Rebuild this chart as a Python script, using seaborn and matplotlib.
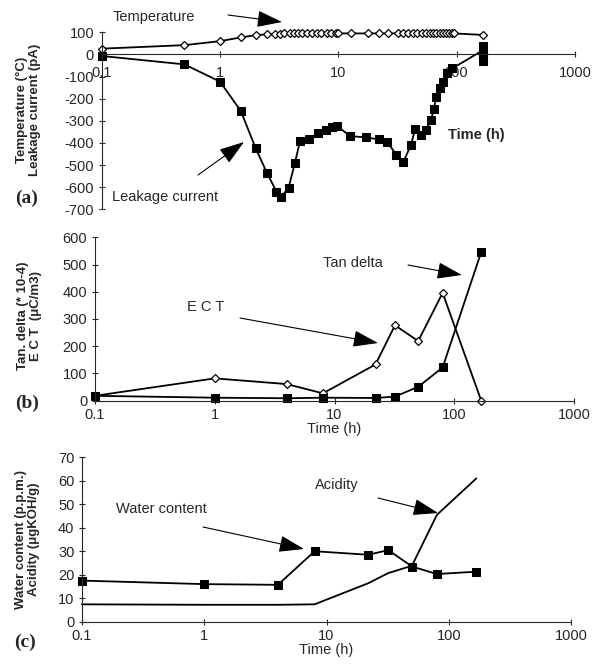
import numpy as np
import pandas as pd
import matplotlib
matplotlib.use('Agg')
import matplotlib.pyplot as plt
import seaborn as sns

# (a) temperature and leakage current vs time
temp_time = [0.1, 0.5, 1.0, 1.5, 2.0, 2.5, 2.9, 3.2, 3.5, 3.9, 4.25, 4.6, 4.9, 5.4, 6.0,
             6.6, 7.2, 8.0, 8.6, 9.5, 10, 12.8, 17.7, 22, 26.4, 31.7, 35, 38.5, 42.4,
             46.5, 50.7, 55, 59, 63, 67, 72, 77, 81, 86, 91, 95, 168]
temperature = [26, 42, 60, 77, 87, 91, 93, 94, 95, 95, 95, 95, 95, 95, 95,
               95, 95, 95, 95, 95, 95, 95, 95, 95, 95, 95, 95, 95, 95,
               95, 95, 95, 95, 95, 95, 95, 95, 95, 95, 95, 95, 88]

leak_time = [0.1, 0.5, 1.0, 1.5, 2.0, 2.5, 3.0, 3.3, 3.8, 4.3, 4.75, 5.7, 6.7, 7.9, 8.8,
             9.75, 12.6, 17, 22, 26, 31, 35.5, 41, 44.5, 50, 55, 60.5, 64.5, 66.7, 72,
             77, 83.5, 92, 168, 168, 168, 168]
leakage = [-7, -45, -123, -256, -424, -537, -620, -643, -602, -489, -390, -384, -354, -342, -329,
           -324, -369, -375, -384, -396, -455, -485, -410, -339, -364, -342, -296, -248, -191, -153,
           -123, -85, -63, 20, 38, -5, -28]

# (b) and (c) share sampling times
sample_time = [0.1, 1, 4, 8, 22, 32, 50, 80, 168]
ect = [18, 82, 61, 27, 133, 277, 219, 396, 0]
tan_delta = [18, 11, 9, 11, 10, 15, 51, 122, 546]
water = [17.5, 16, 15.7, 30, 28.5, 30.5, 23.5, 20.3, 21.3]
acidity = [7.4, 7.2, 7.2, 7.4, 16.4, 20.7, 23.8, 45.5, 61]

xticks = [0.1, 1, 10, 100, 1000]
xticklabels = ['0.1', '1', '10', '100', '1000']

sns.set_style('ticks')
plt.rcParams['font.family'] = ['Liberation Sans', 'DejaVu Sans']
plt.rcParams['axes.unicode_minus'] = False

W, H = 594, 666
fig = plt.figure(figsize=(W / 100, H / 100), dpi=100)


def fp(x, y):
    # top-left pixel -> figure fraction
    return (x / W, 1 - y / H)


def rect(x0, x1, ytop, ybot):
    return [x0 / W, 1 - ybot / H, (x1 - x0) / W, (ybot - ytop) / H]


ax_a = fig.add_axes(rect(101.7, 575, 32.3, 209.3))
ax_b = fig.add_axes(rect(95, 574, 237.3, 400.7))
ax_c = fig.add_axes(rect(82, 571, 457.3, 621.7))

sq = dict(color='black', marker='s', markersize=6.3, markerfacecolor='black',
          markeredgecolor='black', linewidth=1.3, sort=False, estimator=None)
dm = dict(color='black', marker='D', markersize=3.8, markerfacecolor='white',
          markeredgecolor='black', markeredgewidth=0.9, linewidth=1.3, sort=False, estimator=None)

sns.lineplot(x=temp_time, y=temperature, ax=ax_a, **dm)
sns.lineplot(x=leak_time, y=leakage, ax=ax_a, **sq)
sns.lineplot(x=sample_time, y=ect, ax=ax_b, **dm)
sns.lineplot(x=sample_time, y=tan_delta, ax=ax_b, **sq)
sns.lineplot(x=sample_time, y=water, ax=ax_c, **sq)
sns.lineplot(x=sample_time, y=acidity, ax=ax_c, color='black', linewidth=1.3, sort=False, estimator=None)

for ax in (ax_a, ax_b, ax_c):
    ax.set_facecolor('none')
    ax.set_xscale('log')
    ax.set_xlim(0.1, 1000)
    ax.set_xticks(xticks)
    ax.set_xticklabels(xticklabels)
    ax.minorticks_off()
    ax.spines['top'].set_visible(False)
    ax.spines['right'].set_visible(False)
    ax.spines['left'].set_linewidth(0.8)
    ax.spines['bottom'].set_linewidth(0.8)
    ax.tick_params(direction='inout', length=5, width=0.8, labelsize=10.5, pad=3)
    ax.set_xlabel('')
    for line in ax.lines:
        line.set_clip_on(False)

ax_a.set_ylim(-700, 100)
ax_a.set_yticks(range(-700, 101, 100))
ax_a.spines['bottom'].set_position(('data', 0))
ax_a.tick_params(axis='x', pad=6)

ax_b.set_ylim(0, 600)
ax_b.set_yticks(range(0, 601, 100))
ax_b.set_xlabel('Time (h)', fontsize=10.5, labelpad=0)

ax_c.set_ylim(0, 70)
ax_c.set_yticks(range(0, 71, 10))
ax_c.set_xlabel('Time (h)', fontsize=10.5, labelpad=0)

ylab = dict(fontsize=9.5, fontweight='bold', linespacing=1.1)
ax_a.set_ylabel('Temperature (°C)\nLeakage current (pA)', **ylab)
ax_a.yaxis.set_label_coords(-0.128, 0.56)
ax_b.set_ylabel('Tan. delta (* 10-4)\nE C T  (\u03bcC/m3)', **ylab)
ax_b.yaxis.set_label_coords(-0.111, 0.52)
ax_c.set_ylabel('Water content (p.p.m.)\nAcidity (\u03bcgKOH/g)', **ylab)
ax_c.yaxis.set_label_coords(-0.086, 0.5)

# panel letters
for lab, (x, y) in [('(a)', (27, 198)), ('(b)', (27, 403)), ('(c)', (25, 642))]:
    fig.text(*fp(x, y), lab, family=['Liberation Serif', 'DejaVu Serif'], fontsize=14,
             fontweight='bold', ha='center', va='center')

# callouts: text, text position, arrow tail, arrow tip (pixels from top-left)
arrow = dict(arrowstyle='-|>,head_length=1.2,head_width=0.4', color='black', lw=0.8,
             mutation_scale=13, shrinkA=0, shrinkB=0)
notes = [
    (ax_a, 'Temperature', (113, 16.7), (228, 15), (282, 22)),
    (ax_a, 'Leakage current', (112, 197), (198, 175), (244, 142)),
    (ax_b, 'E C T', (187, 306.7), (240, 318), (378, 343)),
    (ax_b, 'Tan delta', (323, 262.7), (408, 265), (462, 275)),
    (ax_c, 'Water content', (116, 509.3), (203, 527), (304, 549)),
    (ax_c, 'Acidity', (315, 485), (378, 498), (438, 513)),
]
for ax, txt, tpos, tail, tip in notes:
    fig.text(*fp(*tpos), txt, fontsize=10.5, ha='left', va='center')
    ax.annotate('', xy=fp(*tip), xytext=fp(*tail), xycoords='figure fraction',
                textcoords='figure fraction', arrowprops=arrow, annotation_clip=False)

fig.text(*fp(448, 135), 'Time (h)', fontsize=10.5, fontweight='bold', ha='left', va='center')

fig.savefig('out.png', dpi=100)
